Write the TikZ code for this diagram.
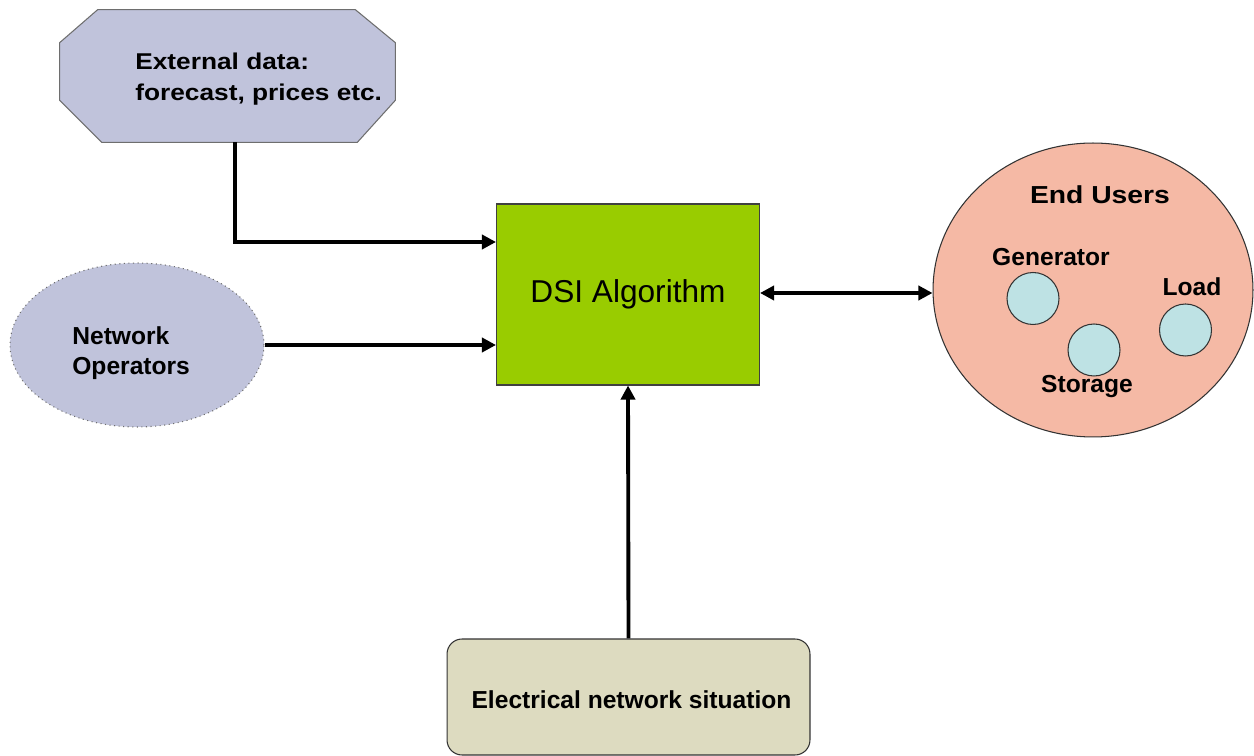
\documentclass[tikz,border=0pt]{standalone}
\usepackage{fontspec}
\setmainfont{Liberation Sans}
\newfontfamily\widefont[FakeStretch=1.15]{Liberation Sans}
\usetikzlibrary{arrows.meta,calc,shapes.geometric}

\definecolor{lavender}{RGB}{192,195,219}
\definecolor{dsigreen}{RGB}{153,204,0}
\definecolor{salmon}{RGB}{245,185,165}
\definecolor{paleblue}{RGB}{190,226,228}
\definecolor{beige}{RGB}{221,219,192}
\definecolor{edgegray}{RGB}{110,110,110}

\tikzset{
  conn/.style={line width=2.2pt, -{Triangle[length=8pt,width=8pt]}},
  biconn/.style={line width=2.2pt, {Triangle[length=8pt,width=8pt]}-{Triangle[length=8pt,width=8pt]}},
  lbl/.style={font=\fontsize{14}{17}\selectfont\bfseries, inner sep=0pt},
  widelbl/.style={font=\widefont\fontsize{13}{18}\selectfont\bfseries, inner sep=0pt, align=left},
  unit/.style={circle, draw=black!80, line width=0.6pt, fill=paleblue, minimum size=1.04cm, inner sep=0pt}
}

\begin{document}
\begin{tikzpicture}[x=0.02cm, y=-0.02cm]
  \useasboundingbox[fill=white] (0,0) rectangle (1254,756);

  % external data source: octagonal frame
  \node[minimum width=6.7cm, minimum height=2.64cm, inner sep=0pt] (ext) at (227.5,76) {};
  \draw[draw=edgegray, line width=0.6pt, fill=lavender]
    ($(ext.north west)+(38,0)$) -- ($(ext.north east)+(-40,0)$)
    -- ($(ext.north east)+(0,33)$) -- ($(ext.south east)+(0,-42)$)
    -- ($(ext.south east)+(-38,0)$) -- ($(ext.south west)+(42,0)$)
    -- ($(ext.south west)+(0,-42)$) -- ($(ext.north west)+(0,33)$) -- cycle;
  \node[widelbl, anchor=west] (extlbl) at (135,79) {External data:\\forecast, prices etc.};

  % network operators
  \node[ellipse, draw=edgegray, line width=0.6pt, dotted, fill=lavender,
        minimum width=5.08cm, minimum height=3.28cm, inner sep=0pt] (netop) at (137,345) {};
  \node[lbl, align=left, anchor=west] (netlbl) at (72,353) {Network\\Operators};

  % central algorithm block
  \node[draw=black!75, line width=0.6pt, fill=dsigreen,
        minimum width=5.26cm, minimum height=3.62cm, inner sep=0pt,
        font=\fontsize{18}{21}\selectfont] (dsi) at (628,294.5) {DSI Algorithm};

  % end users with their devices
  \node[ellipse, draw=black!80, line width=0.6pt, fill=salmon,
        minimum width=6.4cm, minimum height=5.88cm, inner sep=0pt] (eu) at (1093,290) {};
  \node[lbl, font=\widefont\fontsize{14}{17}\selectfont\bfseries] (eulbl) at (1100,195) {End Users};
  \node[unit] (gen) at (1033,298.5) {};
  \node[unit] (sto) at (1094,350) {};
  \node[unit] (load) at (1185.5,330) {};
  \node[lbl] (genlbl) at (1051,257) {Generator};
  \node[lbl] (stolbl) at (1087,387) {Storage};
  \node[lbl] (loadlbl) at (1192,287) {Load};

  % electrical network state
  \node[draw=black!80, line width=0.6pt, fill=beige, rounded corners=0.3cm,
        minimum width=7.26cm, minimum height=2.32cm, inner sep=0pt] (elec) at (628.5,697) {};
  \node[lbl] (eleclbl) at (631.5,700) {Electrical network situation};

  % connectors
  \draw[conn] ($(ext.south)+(7.5,0)$) |- ($(dsi.west)+(0,-52.5)$);
  \draw[conn] (netop.east) -- (dsi.west |- netop.east);
  \draw[biconn] ($(dsi.east)+(0,-1.5)$) -- ($(eu.west)+(0,3)$);
  \draw[conn] (elec.north) -- (dsi.south);
\end{tikzpicture}
\end{document}
